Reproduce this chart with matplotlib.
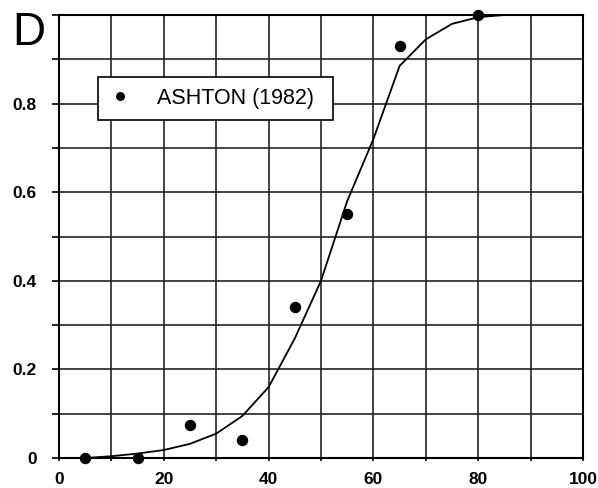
import matplotlib
matplotlib.use("Agg")
import matplotlib.pyplot as plt
import numpy as np

plt.rcParams['font.family'] = ['Liberation Sans', 'DejaVu Sans']

# observed points (ASHTON 1982)
obs_x = [5, 15, 25, 35, 45, 55, 65, 80]
obs_y = [0.0, 0.0, 0.075, 0.04, 0.34, 0.55, 0.93, 1.0]

# fitted curve
fit_x = [5, 10, 15, 20, 25, 30, 35, 40, 45, 50, 55, 60, 65, 70, 75, 80, 85, 90, 92]
fit_y = [0.0, 0.004, 0.01, 0.018, 0.032, 0.055, 0.095, 0.16, 0.27, 0.40,
         0.58, 0.72, 0.885, 0.945, 0.98, 0.995, 1.0, 1.0, 1.0]

fig = plt.figure(figsize=(5.98, 4.88), dpi=100)
ax = fig.add_axes([59 / 598, 30 / 488, 524 / 598, 443 / 488])

ax.plot(fit_x, fit_y, color='black', lw=1.3, zorder=3)
ax.plot(obs_x, obs_y, 'o', color='black', ms=7.2, zorder=4, clip_on=False,
        label='ASHTON (1982)')

ax.set_xlim(0, 100)
ax.set_ylim(0, 1.0)
ax.set_xticks(np.arange(0, 101, 10), minor=True)
ax.set_xticks([0, 20, 40, 60, 80, 100])
ax.set_yticks(np.arange(0, 1.01, 0.1), minor=True)
ax.set_yticks([0, 0.2, 0.4, 0.6, 0.8])
ax.set_yticklabels(['0', '0.2', '0.4', '0.6', '0.8'])
ax.grid(True, which='both', color='#222222', lw=1.2)
ax.set_axisbelow(True)

ax.tick_params(axis='y', which='both', direction='out', length=5, width=1.2, labelsize=12.5, pad=11)
ax.tick_params(axis='x', which='both', direction='out', length=2, width=1.2, labelsize=12.5, pad=8)
for lab in ax.get_xticklabels() + ax.get_yticklabels():
    lab.set_fontweight('bold')
for s in ax.spines.values():
    s.set_linewidth(1.5)

leg = ax.legend(loc='upper left', bbox_to_anchor=(0.0744, 0.0, 0.448, 0.86), mode='expand',
                fontsize=15.5, markerscale=0.75, handlelength=1.0, handletextpad=1.25,
                borderpad=0.5, borderaxespad=0, fancybox=False, framealpha=1,
                edgecolor='black')
leg.get_frame().set_linewidth(1.2)

fig.text(12 / 598, 1 - 45 / 488, 'D', fontsize=33, ha='left', va='baseline')

fig.savefig('out.png', dpi=100)
